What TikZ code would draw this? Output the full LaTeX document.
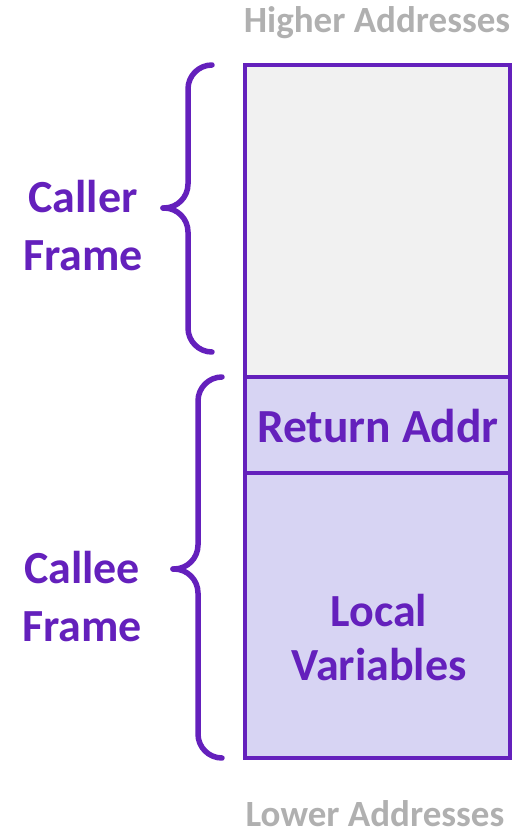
\documentclass[tikz,border=0pt]{standalone}
\usepackage{fontspec}
\setmainfont{Carlito}
\definecolor{frameviolet}{HTML}{6420BC}
\definecolor{callerfill}{HTML}{F1F1F1}
\definecolor{calleefill}{HTML}{D7D4F3}
\definecolor{addrgray}{HTML}{B0B0B0}
\tikzset{
  slot/.style={draw=frameviolet, line width=4.5pt},
  brace/.style={draw=frameviolet, line width=5.5pt, line cap=round, rounded corners=24pt},
  label/.style={text=frameviolet, font=\bfseries\fontsize{46}{58}\selectfont, align=center, anchor=base, inner sep=0pt},
  cell/.style={text=frameviolet, font=\bfseries\fontsize{47.5}{54}\selectfont, align=center, anchor=base, inner sep=0pt},
  addr/.style={text=addrgray, font=\bfseries\fontsize{37}{44}\selectfont, anchor=base, inner sep=0pt, text depth=0pt}
}
\begin{document}
\begin{tikzpicture}[x=1pt, y=-1pt]
\useasboundingbox (0,0) rectangle (528,830);

% stack slots
\coordinate (topL) at (245,65);
\coordinate (midR) at (510,377);
\coordinate (retL) at (245,377);
\coordinate (retR) at (510,473);
\coordinate (locL) at (245,473);
\coordinate (botR) at (510,758);
\fill[callerfill] (topL) rectangle (midR);
\fill[calleefill] (retL) rectangle (botR);
\draw[slot] (topL) rectangle (midR);
\draw[slot] (retL) rectangle (retR);
\draw[slot] (locL) rectangle (botR);

% addresses
\node[addr] (high) at (377,32) {Higher Addresses};
\node[addr] (low) at (375,826) {Lower Addresses};

% cell texts (base anchor sits on the last line)
\node[cell] (ret) at (378,442) {Return Addr};
\node[label, font=\bfseries\fontsize{46}{54}\selectfont] (loc) at (379,680) {Local\\Variables};

% frame labels
\node[label] (caller) at (83,270) {Caller\\Frame};
\node[label] (callee) at (82,641) {Callee\\Frame};

% caller brace
\coordinate (tipA) at (163,208);
\draw[brace] (tipA) -- (188,208) -- (188,65) -- (212,65);
\draw[brace] (tipA) -- (188,208) -- (188,352) -- (212,352);

% callee brace
\coordinate (tipB) at (173,569);
\draw[brace] (tipB) -- (198,569) -- (198,377) -- (222,377);
\draw[brace] (tipB) -- (198,569) -- (198,758) -- (222,758);
\end{tikzpicture}
\end{document}
